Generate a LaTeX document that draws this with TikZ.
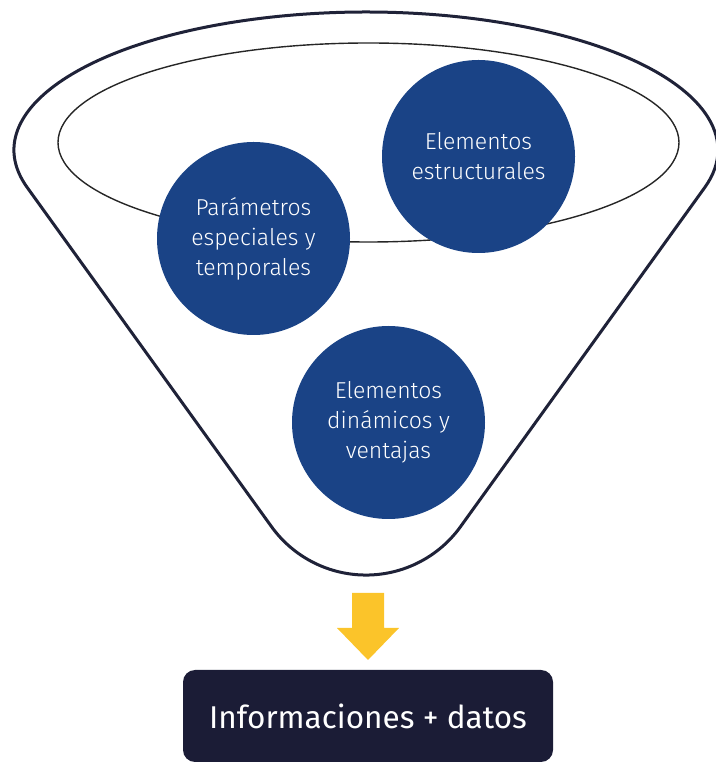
\documentclass[tikz,border=0pt]{standalone}
\usepackage{fontspec}
\setmainfont{Fira Sans}[UprightFont=* Light]
\newfontfamily\boxfont{Fira Sans}
\definecolor{circblue}{HTML}{1A4386}
\definecolor{boxnavy}{HTML}{1B1C36}
\definecolor{funnelline}{HTML}{1F2238}
\definecolor{arrowyellow}{HTML}{FBC42A}
\begin{document}
\begin{tikzpicture}[x=1pt,y=1pt,
  bubble/.style={circle, fill=circblue, text=white, align=center, inner sep=0pt,
    minimum size=193pt, font=\fontsize{23}{30}\selectfont},
  funnel/.style={draw=funnelline, line width=3pt, line join=round},
  rim/.style={draw=black!85, line width=1.4pt},
  resultbox/.style={fill=boxnavy, text=white, rounded corners=12pt, inner sep=0pt,
    minimum width=370pt, minimum height=92pt, font=\boxfont\fontsize{31.5}{36}\selectfont},
  flow/.style={fill=arrowyellow}]
\useasboundingbox (0,0) rectangle (715,763);
% outer funnel
\draw[funnel] (27.3,575.4) arc[start angle=195.8, end angle=-15.8, x radius=352, y radius=138]
  -- (460.5,236.3) arc[start angle=-35.8, end angle=-144.2, radius=116.5] -- cycle;
% inner rim ellipse
\draw[rim] (368.5,620.5) ellipse[x radius=310.5, y radius=99.5];
% circles
\node[bubble] (param) at (253.5,524.5) {Parámetros\\especiales y\\temporales};
\node[bubble] (estr) at (478.5,606.5) {Elementos\\estructurales};
\node[bubble] (dina) at (388.5,340.5) {Elementos\\dinámicos y\\ventajas};
% result box
\node[resultbox] (info) at (368,47) {Informaciones + datos};
% arrow
\coordinate (atop) at (368,170);
\fill[flow] ([xshift=-16pt]atop) -- ([xshift=16pt]atop) -- (384,135) -- (399,135)
  -- (368,103) -- (337,135) -- (352,135) -- cycle;
\end{tikzpicture}
\end{document}
